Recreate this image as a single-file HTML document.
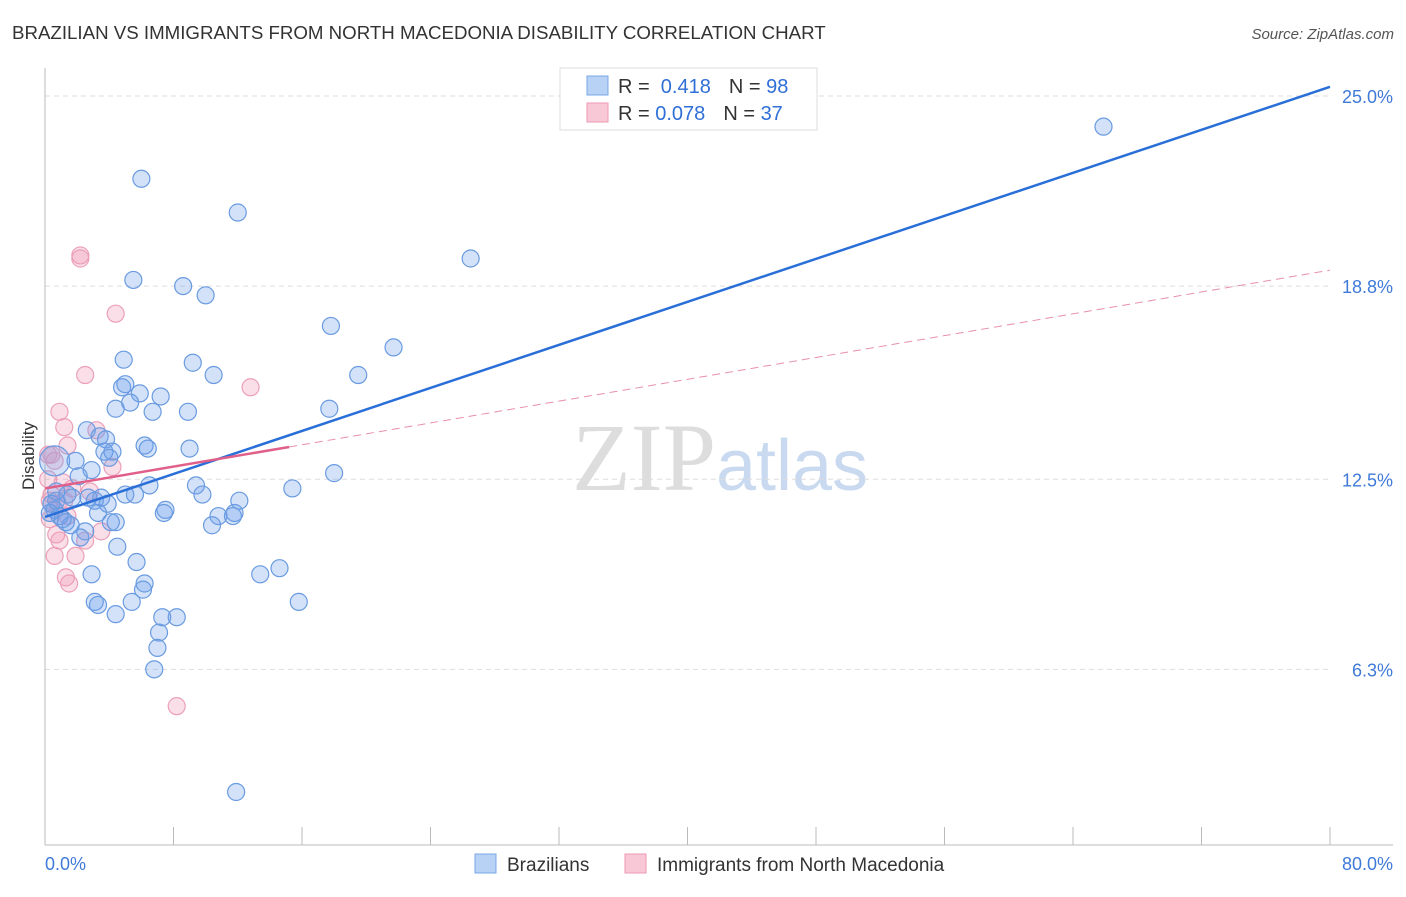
<!DOCTYPE html>
<html><head><meta charset="utf-8"><style>
body{margin:0;background:#fff;font-family:"Liberation Sans",sans-serif;}
</style></head><body>
<svg width="1406" height="892" xmlns="http://www.w3.org/2000/svg" id="svg" font-family="Liberation Sans, sans-serif">
<text x="12" y="39" font-size="18.7" fill="#333">BRAZILIAN VS IMMIGRANTS FROM NORTH MACEDONIA DISABILITY CORRELATION CHART</text>
<text x="1394" y="39" font-size="15" fill="#555" text-anchor="end" font-style="italic">Source: ZipAtlas.com</text>
<text x="720" y="490" font-size="96" fill="#ddd" text-anchor="middle" font-family="Liberation Serif, serif">ZIP<tspan fill="#c9daf0" font-family="Liberation Sans, sans-serif" font-size="72">atlas</tspan></text>
<text transform="translate(34,456) rotate(-90)" font-size="17" fill="#333" text-anchor="middle">Disability</text>
<g id="grid"></g><g id="axes"></g><g id="pts"></g><g id="lines"></g>
<g>
<rect x="560" y="68" width="257" height="62" fill="#fff" stroke="#ddd"/>
<rect x="587" y="76" width="21" height="19" fill="#b8d2f5" stroke="#7aa7e6"/>
<rect x="587" y="103" width="21" height="19" fill="#f8c8d6" stroke="#eb9ab2"/>
<text x="618" y="93" font-size="20" fill="#333">R = <tspan fill="#2f6fd6">&#160;0.418</tspan><tspan dx="18">N = </tspan><tspan fill="#2f6fd6">98</tspan></text>
<text x="618" y="120" font-size="20" fill="#333">R = <tspan fill="#2f6fd6">0.078</tspan><tspan dx="18">N = </tspan><tspan fill="#2f6fd6">37</tspan></text>
</g>
<g>
<rect x="475" y="854" width="21" height="19" fill="#b8d2f5" stroke="#7aa7e6"/>
<text x="507" y="871" font-size="19" fill="#333">Brazilians</text>
<rect x="625" y="854" width="21" height="19" fill="#f8c8d6" stroke="#eb9ab2"/>
<text x="657" y="871" font-size="19" fill="#333">Immigrants from North Macedonia</text>
</g>
</svg>
<script>
const yTicks=[25.0,18.8,12.5,6.3];
const yTickLabels=["25.0%","18.8%","12.5%","6.3%"];
const xLabels=["0.0%","80.0%"];
const blueX=[6.0,12.0,26.5,5.5,8.6,10.0,17.8,21.7,4.9,9.2,10.5,19.5,4.8,5.0,5.9,7.2,5.3,4.4,6.7,8.9,17.7,2.6,3.4,3.8,6.2,6.4,9.0,3.7,4.2,4.0,1.9,2.9,18.0,2.1,6.5,9.4,15.4,9.8,5.0,5.6,1.7,2.7,3.5,3.1,3.9,12.1,7.5,7.4,11.8,11.7,10.8,3.3,4.4,4.1,10.4,1.6,1.1,0.6,0.4,0.9,0.7,2.5,2.2,4.5,5.7,14.6,13.4,2.9,6.2,6.1,3.1,3.3,5.4,15.8,4.4,7.3,8.2,7.1,7.0,6.8,11.9,65.9,0.3,1.3,0.7,1.4,0.6];
const blueY=[22.3,21.2,19.7,19.0,18.8,18.5,17.5,16.8,16.4,16.3,15.9,15.9,15.5,15.6,15.3,15.2,15.0,14.8,14.7,14.7,14.8,14.1,13.9,13.8,13.6,13.5,13.5,13.4,13.4,13.2,13.1,12.8,12.7,12.6,12.3,12.3,12.2,12.0,12.0,12.0,11.9,11.9,11.9,11.8,11.7,11.8,11.5,11.4,11.4,11.3,11.3,11.4,11.1,11.1,11.0,11.0,11.2,11.5,11.7,11.3,11.8,10.8,10.6,10.3,9.8,9.6,9.4,9.4,9.1,8.9,8.5,8.4,8.5,8.5,8.1,8.0,8.0,7.5,7.0,6.3,2.3,24.0,11.4,11.1,12.1,12.0,13.1];
const pinkX=[2.2,2.2,4.4,2.5,12.8,0.9,1.2,3.2,1.4,4.2,0.4,0.6,0.2,1.1,1.7,0.4,0.8,0.3,1.4,0.7,2.5,3.5,0.9,1.9,0.6,1.3,1.5,8.2,2.8,0.3,1.2,0.2];
const pinkY=[19.8,19.7,17.9,15.9,15.5,14.7,14.2,14.1,13.6,12.9,13.3,13.1,12.5,12.4,12.2,12.0,11.7,11.2,11.3,10.7,10.5,10.8,10.5,10.0,10.0,9.3,9.1,5.1,12.1,11.8,11.8,13.3];
const blueTrend=[11.27,25.3];
const pinkTrend=[12.2,0.089];
const NS="http://www.w3.org/2000/svg";
const X=v=>45+v*1285/80, Y=v=>96+(25-v)*30.66;
function mk(t,a,p){const e=document.createElementNS(NS,t);for(const k in a)e.setAttribute(k,a[k]);document.getElementById(p).appendChild(e);return e;}
yTicks.forEach((t,i)=>{
 const g=mk('line',{x1:45,x2:1330,y1:Y(t),y2:Y(t),stroke:'#ddd','stroke-dasharray':'5,4'},'grid');
 
 
 const l=mk('text',{x:1393,y:Y(t)+7,'font-size':18,fill:'#3f7ad8','text-anchor':'end'},'grid');
 
 
 l.textContent=yTickLabels[i];
});
const ax=mk('line',{x1:45,x2:45,y1:68,y2:845,stroke:'#bbb'},'axes');


const bx=mk('line',{x1:45,x2:1393,y1:845,y2:845,stroke:'#bbb'},'axes');


for(let k=1;k<=10;k++){const t=mk('line',{x1:X(k*8),x2:X(k*8),y1:827,y2:845,stroke:'#bbb'},'axes');
 
 }
[[xLabels[0],45,'start'],[xLabels[1],1393,'end']].forEach(a=>{const t=mk('text',{x:a[1],y:870,'font-size':18,fill:'#3f7ad8','text-anchor':a[2]},'axes');
 
 
 t.textContent=a[0];});
pinkX.forEach((x,i)=>{const c=mk('circle',{cx:X(x),cy:Y(pinkY[i]),r:8.5,fill:'rgba(240,150,180,0.3)',stroke:'#eba0b8','stroke-width':1.2},'pts');
 
 });
blueX.forEach((x,i)=>{const c=mk('circle',{cx:X(x),cy:Y(blueY[i]),r:i==blueX.length-1?15:8.5,fill:'rgba(110,160,235,0.3)',stroke:'#6a9be0','stroke-width':1.2},'pts');
 
 });
const bl=mk('line',{x1:X(0),y1:Y(blueTrend[0]),x2:X(80),y2:Y(blueTrend[1]),stroke:'#2a6fd8','stroke-width':2.5},'lines');


const pd=mk('line',{x1:X(15.2),y1:Y(pinkTrend[0]+pinkTrend[1]*15.2),x2:X(80),y2:Y(pinkTrend[0]+pinkTrend[1]*80),stroke:'#e890aa','stroke-width':1,'stroke-dasharray':'8,5'},'lines');


const ps=mk('line',{x1:X(0),y1:Y(pinkTrend[0]),x2:X(15.2),y2:Y(pinkTrend[0]+pinkTrend[1]*15.2),stroke:'#e0608a','stroke-width':2.5},'lines');


</script>
</body></html>
